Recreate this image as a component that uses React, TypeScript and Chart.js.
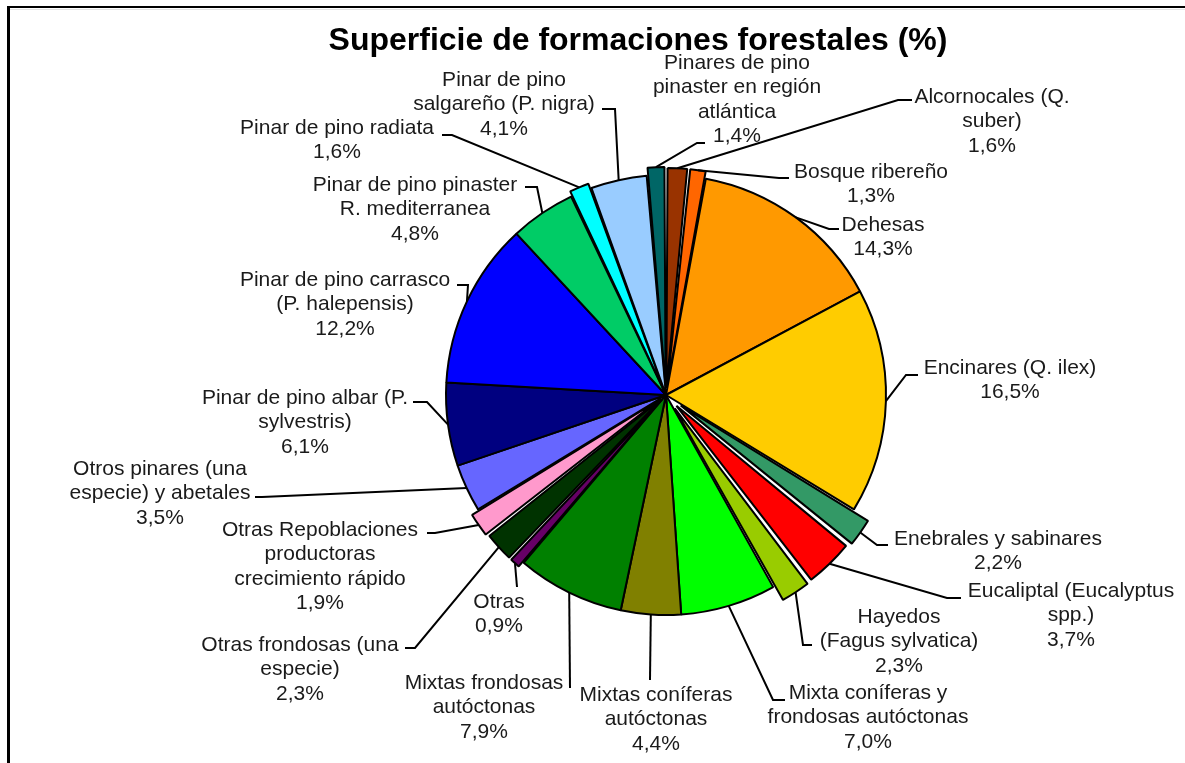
import React, { useEffect, useRef } from 'react';
import { Chart, registerables } from 'chart.js';

Chart.register(...registerables);

// ---- data ----
const categories = [
  'Alcornocales (Q. suber)',
  'Bosque ribereño',
  'Dehesas',
  'Encinares (Q. ilex)',
  'Enebrales y sabinares',
  'Eucaliptal (Eucalyptus spp.)',
  'Hayedos (Fagus sylvatica)',
  'Mixta coníferas y frondosas autóctonas',
  'Mixtas coníferas autóctonas',
  'Mixtas frondosas autóctonas',
  'Otras',
  'Otras frondosas (una especie)',
  'Otras Repoblaciones productoras crecimiento rápido',
  'Otros pinares (una especie) y abetales',
  'Pinar de pino albar (P. sylvestris)',
  'Pinar de pino carrasco (P. halepensis)',
  'Pinar de pino pinaster R. mediterranea',
  'Pinar de pino radiata',
  'Pinar de pino salgareño (P. nigra)',
  'Pinares de pino pinaster en región atlántica',
];

const values = [1.6, 1.3, 14.3, 16.5, 2.2, 3.7, 2.3, 7.0, 4.4, 7.9, 0.9, 2.3, 1.9, 3.5, 6.1, 12.2, 4.8, 1.6, 4.1, 1.4];

const labelLines = [
  ['Alcornocales (Q.', 'suber)'],
  ['Bosque ribereño'],
  ['Dehesas'],
  ['Encinares (Q. ilex)'],
  ['Enebrales y sabinares'],
  ['Eucaliptal (Eucalyptus', 'spp.)'],
  ['Hayedos', '(Fagus sylvatica)'],
  ['Mixta coníferas y', 'frondosas autóctonas'],
  ['Mixtas coníferas', 'autóctonas'],
  ['Mixtas frondosas', 'autóctonas'],
  ['Otras'],
  ['Otras frondosas (una', 'especie)'],
  ['Otras Repoblaciones', 'productoras', 'crecimiento rápido'],
  ['Otros pinares (una', 'especie) y abetales'],
  ['Pinar de pino albar (P.', 'sylvestris)'],
  ['Pinar de pino carrasco', '(P. halepensis)'],
  ['Pinar de pino pinaster', 'R. mediterranea'],
  ['Pinar de pino radiata'],
  ['Pinar de pino', 'salgareño (P. nigra)'],
  ['Pinares de pino', 'pinaster en región', 'atlántica'],
];

const titleText = 'Superficie de formaciones forestales (%)';

// ---- styles ----
const colors = [
  '#993300', '#FF6600', '#FF9900', '#FFCC00', '#339966',
  '#FF0000', '#99CC00', '#00FF00', '#808000', '#008000',
  '#660066', '#003300', '#FF99CC', '#6666FF', '#000080',
  '#0000FF', '#00CC66', '#00FFFF', '#99CCFF', '#006666',
];

// explosion distance of each slice (px)
const explode = [7, 7, 0, 0, 18, 15, 16, 0, 0, 0, 6, 6, 8, 0, 0, 0, 0, 5, 0, 8];

// label layout: text block centre x, first line centre y, elbow point, attach point
const labelLayout = [
  { cx: 992, cy: 97, elbow: [898, 100], attach: [912, 100] },
  { cx: 871, cy: 172, elbow: [779, 178], attach: [789, 178] },
  { cx: 883, cy: 225, elbow: [829, 229], attach: [839, 229] },
  { cx: 1010, cy: 368, elbow: [906, 375], attach: [918, 375] },
  { cx: 998, cy: 539, elbow: [877, 545], attach: [888, 545] },
  { cx: 1071, cy: 591, elbow: [947, 598], attach: [961, 598] },
  { cx: 899, cy: 617, elbow: [803, 645], attach: [812, 645] },
  { cx: 868, cy: 693, elbow: [773, 700], attach: [785, 700] },
  { cx: 656, cy: 695, elbow: [650, 680], attach: [650, 680] },
  { cx: 484, cy: 683, elbow: [570, 688], attach: [570, 688] },
  { cx: 499, cy: 602, elbow: [517, 587], attach: [517, 587] },
  { cx: 300, cy: 645, elbow: [415, 648], attach: [405, 648] },
  { cx: 320, cy: 530, elbow: [435, 533], attach: [427, 533] },
  { cx: 160, cy: 469, elbow: [262, 497], attach: [255, 497] },
  { cx: 305, cy: 398, elbow: [427, 402], attach: [413, 402] },
  { cx: 345, cy: 280, elbow: [468, 285], attach: [457, 285] },
  { cx: 415, cy: 185, elbow: [537, 187], attach: [525, 187] },
  { cx: 337, cy: 128, elbow: [452, 135], attach: [442, 135] },
  { cx: 504, cy: 80, elbow: [615, 109], attach: [602, 109] },
  { cx: 737, cy: 63, elbow: [697, 143], attach: [705, 143] },
];

const LABEL_FONT = '21px "Liberation Sans", Arial, sans-serif';
const TITLE_FONT = 'bold 32px "Liberation Sans", Arial, sans-serif';
const LINE_H = 24.5;

const fmt = (v: number) => v.toFixed(1).replace('.', ',') + '%';

const excelPiePlugin = {
  id: 'excelPie',
  afterDatasetUpdate(chart: any) {
    const meta = chart.getDatasetMeta(0);
    meta.data.forEach((el: any, i: number) => {
      const d = explode[i] || 0;
      if (!d) return;
      const mid = (el.startAngle + el.endAngle) / 2;
      el.x += Math.cos(mid) * d;
      el.y += Math.sin(mid) * d;
      const shrink = 1.2 / el.outerRadius;
      el.startAngle += shrink;
      el.endAngle -= shrink;
      el.circumference = el.endAngle - el.startAngle;
    });
  },
  beforeDraw(chart: any) {
    const ctx = chart.ctx;
    ctx.save();
    ctx.fillStyle = '#ffffff';
    ctx.fillRect(0, 0, chart.width, chart.height);
    ctx.restore();
  },
  afterDraw(chart: any) {
    const ctx = chart.ctx;
    ctx.save();
    // frame
    ctx.fillStyle = '#000';
    ctx.fillRect(7, 6, 3, chart.height);
    ctx.fillRect(7, 6, chart.width, 2);
    ctx.fillStyle = '#e4e4e4';
    ctx.fillRect(10, 9, chart.width, 1);

    // title
    ctx.fillStyle = '#000';
    ctx.font = TITLE_FONT;
    ctx.textAlign = 'center';
    ctx.textBaseline = 'alphabetic';
    ctx.fillText(titleText, 638, 50);

    // leader lines
    const meta = chart.getDatasetMeta(0);
    ctx.strokeStyle = '#000';
    ctx.lineWidth = 2;
    ctx.lineJoin = 'miter';
    meta.data.forEach((el: any, i: number) => {
      const L = labelLayout[i];
      const mid = (el.startAngle + el.endAngle) / 2;
      const ex = el.x + Math.cos(mid) * el.outerRadius;
      const ey = el.y + Math.sin(mid) * el.outerRadius;
      ctx.beginPath();
      ctx.moveTo(ex, ey);
      ctx.lineTo(L.elbow[0], L.elbow[1]);
      ctx.lineTo(L.attach[0], L.attach[1]);
      ctx.stroke();
    });

    // labels
    ctx.font = LABEL_FONT;
    ctx.fillStyle = '#1a1a1a';
    ctx.textAlign = 'center';
    ctx.textBaseline = 'middle';
    labelLines.forEach((lines, i) => {
      const L = labelLayout[i];
      const all = [...lines, fmt(values[i])];
      all.forEach((t, k) => {
        ctx.fillText(t, L.cx, L.cy + k * LINE_H);
      });
    });
    ctx.restore();
  },
};

export default function App() {
  const ref = useRef<HTMLCanvasElement | null>(null);

  useEffect(() => {
    if (!ref.current) return;
    const chart = new Chart(ref.current, {
      type: 'pie',
      data: {
        labels: categories,
        datasets: [
          {
            data: values,
            backgroundColor: colors,
            borderColor: '#000',
            borderWidth: 2,
          },
        ],
      },
      options: {
        responsive: false,
        animation: false,
        events: [],
        radius: 220,
        layout: { padding: { left: 147, right: 0, top: 27, bottom: 0 } },
        plugins: {
          legend: { display: false },
          tooltip: { enabled: false },
          title: { display: false },
        },
      } as any,
      plugins: [excelPiePlugin],
    });
    return () => chart.destroy();
  }, []);

  return (
    <div style={{ position: 'fixed', left: 0, top: 0, width: 1185, height: 763, overflow: 'hidden', background: '#fff' }}>
      <canvas ref={ref} width={1185} height={763} style={{ display: 'block', width: 1185, height: 763 }} />
    </div>
  );
}
